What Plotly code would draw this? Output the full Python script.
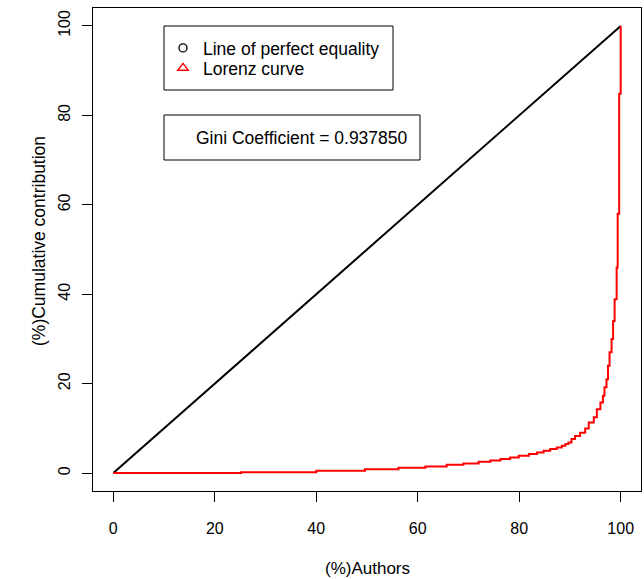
import plotly.graph_objects as go

# ---- data ----
equality_x = [0, 100]
equality_y = [0, 100]

lorenz_x = [0, 25.2, 40.0, 49.6, 56.2, 61.5, 65.7, 69.0, 72.0, 74.3, 76.3, 78.2, 79.9,
            81.9, 83.5, 84.8, 86.1, 87.4, 88.4, 89.1, 89.7, 90.3, 91.0, 92.0, 93.0,
            93.7, 94.7, 95.3, 96.0, 96.5, 96.8, 97.2, 97.5, 97.8, 98.2, 98.5, 98.8,
            99.2, 99.4, 99.7, 100]
lorenz_y = [0, 0.2, 0.55, 0.89, 1.19, 1.49, 1.86, 2.16, 2.53, 2.83, 3.13, 3.50, 3.88,
            4.25, 4.62, 5.0, 5.37, 5.74, 6.12, 6.49, 6.86, 7.6, 8.3, 9.0, 10.0,
            11.3, 12.5, 14.3, 15.8, 17.3, 19.2, 21.0, 24.0, 27.0, 30.0, 34.0, 38.9,
            46.0, 58.0, 84.8, 100]

gini = 0.937850
x_ticks = [0, 20, 40, 60, 80, 100]
y_ticks = [0, 20, 40, 60, 80, 100]

FONT = "Liberation Sans, Arial, sans-serif"
L, R, T, B = 93, 641, 8, 491
PW, PH = R - L, B - T


def px(xp):
    return (xp - L) / PW


def py(yp):
    return (B - yp) / PH


fig = go.Figure()
fig.add_trace(go.Scatter(x=equality_x, y=equality_y, mode="lines",
                         line=dict(color="black", width=2), showlegend=False))
fig.add_trace(go.Scatter(x=lorenz_x, y=lorenz_y, mode="lines", line_shape="hv",
                         line=dict(color="#FF0000", width=2), showlegend=False))
# legend entries (symbols only, as in the original)
fig.add_trace(go.Scatter(x=[None], y=[None], mode="markers", name="Line of perfect equality",
                         legend="legend",
                         marker=dict(symbol="circle-open", color="black", size=8,
                                     line=dict(width=1.3))))
fig.add_trace(go.Scatter(x=[None], y=[None], mode="markers", name="Lorenz curve",
                         legend="legend2",
                         marker=dict(symbol="triangle-up-open", color="#FF0000", size=9,
                                     line=dict(width=1.5))))

axis_common = dict(range=[-4, 104], showgrid=False, zeroline=False, automargin=False,
                   showline=True, linecolor="black", linewidth=1, mirror=True,
                   ticks="outside", ticklen=10, tickwidth=1, tickcolor="black",
                   tickfont=dict(family=FONT, size=16, color="black"))

leg_common = dict(xanchor="left", yanchor="middle", bgcolor="rgba(0,0,0,0)", borderwidth=0,
                  font=dict(family=FONT, size=17.5, color="black"), itemwidth=30)

fig.update_layout(
    width=644, height=579,
    margin=dict(l=L, r=644 - R, t=T, b=579 - B),
    plot_bgcolor="white", paper_bgcolor="white",
    font=dict(family=FONT, size=16, color="black"),
    xaxis=dict(**axis_common, tickvals=x_ticks, ticklabelstandoff=13),
    yaxis=dict(**axis_common, tickvals=y_ticks, tickangle=-90, ticklabelstandoff=6),
    legend=dict(x=px(163), y=py(48), **leg_common),
    legend2=dict(x=px(163), y=py(68), **leg_common),
    showlegend=True,
)

# axis titles
fig.add_annotation(xref="paper", yref="paper", x=px(367), y=py(568),
                   xanchor="center", yanchor="middle", showarrow=False,
                   text="(%)Authors", font=dict(family=FONT, size=17, color="black"))
fig.add_annotation(xref="paper", yref="paper", x=px(39), y=py(241),
                   xanchor="center", yanchor="middle", showarrow=False, textangle=-90,
                   text="(%)Cumulative contribution", font=dict(family=FONT, size=17.5, color="black"))

# legend box
fig.add_shape(type="rect", xref="paper", yref="paper",
              x0=px(164), x1=px(393), y0=py(90), y1=py(26),
              line=dict(color="black", width=1), fillcolor="rgba(0,0,0,0)")
# Gini box
fig.add_shape(type="rect", xref="paper", yref="paper",
              x0=px(164), x1=px(420), y0=py(160), y1=py(115),
              line=dict(color="black", width=1), fillcolor="rgba(0,0,0,0)")
fig.add_annotation(xref="paper", yref="paper", x=px(194), y=py(138),
                   xanchor="left", yanchor="middle", showarrow=False,
                   text=f"Gini Coefficient = {gini:.6f}",
                   font=dict(family=FONT, size=17.5, color="black"))

fig.write_html("out.html", config={"displayModeBar": False},
               post_script="document.body.style.margin='0';document.body.style.padding='0';")
